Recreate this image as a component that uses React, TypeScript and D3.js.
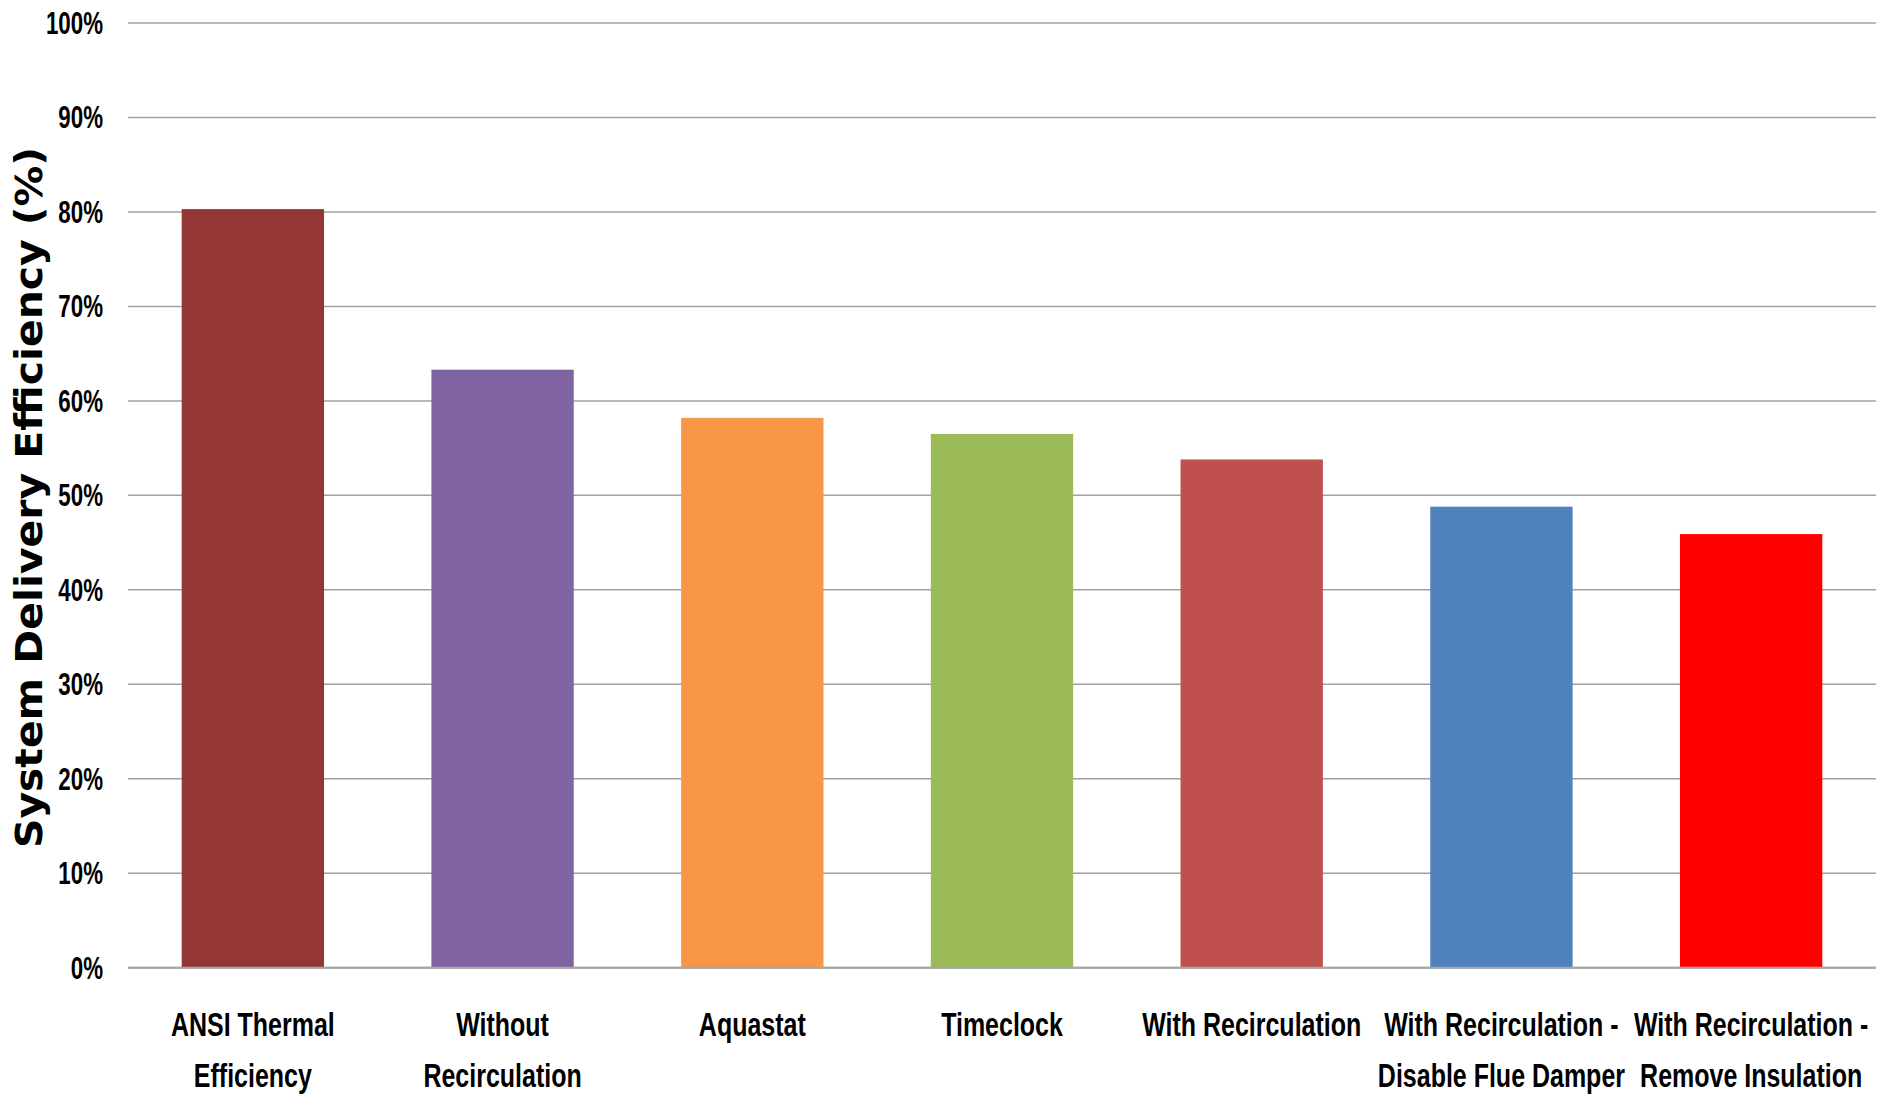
import React from "react";
import * as d3 from "d3";

// Chart data
const categories: string[][] = [
  ["ANSI Thermal", "Efficiency"],
  ["Without", "Recirculation"],
  ["Aquastat"],
  ["Timeclock"],
  ["With Recirculation"],
  ["With Recirculation -", "Disable Flue Damper"],
  ["With Recirculation -", "Remove Insulation"],
];
const efficiency: number[] = [0.803, 0.633, 0.582, 0.565, 0.538, 0.488, 0.459];
const barColors: string[] = ["#943634", "#8064A2", "#F79646", "#9BBB59", "#C0504D", "#4F81BD", "#FF0000"];
const yTicks: number[] = [0, 0.1, 0.2, 0.3, 0.4, 0.5, 0.6, 0.7, 0.8, 0.9, 1.0];
const yTitle = "System Delivery Efficiency (%)";

const W = 1892;
const H = 1095;
const plot = { left: 128, right: 1876, top: 23, bottom: 967.7 };

const LABEL_FONT = "'Liberation Sans', Arial, sans-serif";

export default function App() {
  const keys = categories.map((_, i) => String(i));
  const x = d3.scaleBand<string>().domain(keys).range([plot.left, plot.right]).paddingInner(0.43).paddingOuter(0.215);
  const y = d3.scaleLinear().domain([0, 1]).range([plot.bottom, plot.top]);
  const fmt = d3.format(".0%");

  return (
    <svg
      width={W}
      height={H}
      style={{ position: "fixed", left: 0, top: 0, background: "#fff" }}
    >
      {/* gridlines */}
      {yTicks.map((t) => (
        <line
          key={"g" + t}
          x1={plot.left}
          x2={plot.right}
          y1={y(t)}
          y2={y(t)}
          stroke={t === 0 ? "#A6A6A6" : "#A0A0A0"}
          strokeWidth={t === 0 ? 2 : 1.5}
        />
      ))}
      {/* bars */}
      {efficiency.map((v, i) => (
        <rect
          key={"b" + i}
          x={x(String(i))}
          y={y(v)}
          width={x.bandwidth()}
          height={y(0) - y(v)}
          fill={barColors[i]}
        />
      ))}
      {/* redraw baseline over bars */}
      <line x1={plot.left} x2={plot.right} y1={y(0)} y2={y(0)} stroke="#A6A6A6" strokeWidth={2} />
      {/* y tick labels */}
      {yTicks.map((t) => (
        <text
          key={"t" + t}
          transform={`translate(103,${y(t) + 11}) scale(0.72,1)`}
          textAnchor="end"
          fontFamily={LABEL_FONT}
          fontWeight="bold"
          fontSize={31}
          fill="#000"
        >
          {fmt(t)}
        </text>
      ))}
      {/* category labels */}
      {categories.map((lines, i) => {
        const cx = (x(String(i)) as number) + x.bandwidth() / 2;
        return lines.map((ln, j) => (
          <text
            key={"c" + i + "-" + j}
            transform={`translate(${cx},${1036 + j * 51}) scale(0.735,1)`}
            textAnchor="middle"
            fontFamily={LABEL_FONT}
            fontWeight="bold"
            fontSize={34}
            fill="#000"
          >
            {ln}
          </text>
        ));
      })}
      {/* y axis title */}
      <text
        transform={`translate(42,497.5) rotate(-90)`}
        textAnchor="middle"
        fontFamily="'DejaVu Sans', Verdana, sans-serif"
        fontWeight="bold"
        fontSize={37}
        textLength={701}
        lengthAdjust="spacingAndGlyphs"
        fill="#000"
      >
        {yTitle}
      </text>
    </svg>
  );
}
